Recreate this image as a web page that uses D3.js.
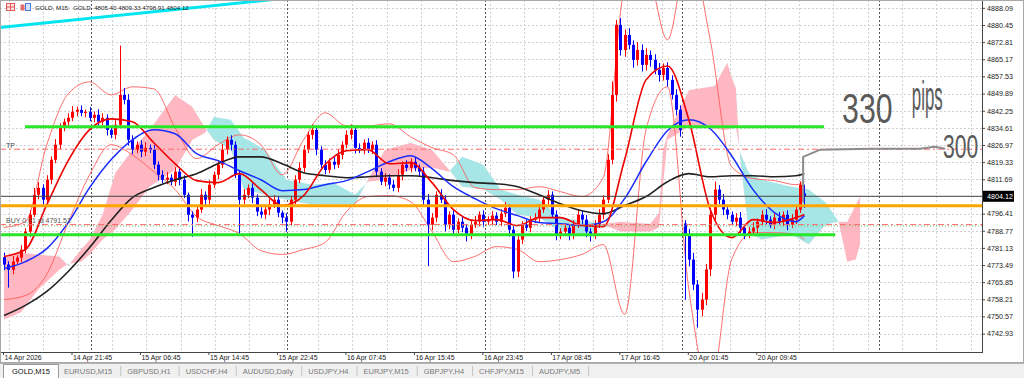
<!DOCTYPE html>
<html>
<head>
<meta charset="utf-8" />
<style>
  body { margin: 0; background: #fff; }
  svg { display: block; }
  text { font-family: "Liberation Sans", Arial, sans-serif; }
</style>
</head>
<body>
<svg id="chart" width="1024" height="378"></svg>
<script src="https://d3js.org/d3.v7.min.js"></script>
<script>
// ---- chart values (GOLD, M15), one candle = 2 bars ----
var closes = [
  4773.7, 4771.4, 4775.0, 4776.8, 4780.3, 4788.4, 4795.9, 4804.8, 4807.9, 4802.6,
  4811.5, 4820.4, 4827.1, 4834.6, 4837.3, 4839.1, 4841.8, 4842.6, 4841.3, 4841.8,
  4839.1, 4840.4, 4837.3, 4839.1, 4833.7, 4831.5, 4836.0, 4849.3, 4847.1, 4829.3,
  4824.9, 4827.1, 4824.0, 4825.7, 4824.9, 4818.2, 4813.7, 4811.5, 4812.4, 4810.6,
  4815.1, 4811.5, 4804.8, 4795.9, 4794.6, 4798.2, 4804.8, 4802.6, 4809.3, 4813.7,
  4818.2, 4824.9, 4829.3, 4827.1, 4813.7, 4802.6, 4804.8, 4807.9, 4803.5, 4797.3,
  4795.9, 4798.2, 4800.4, 4802.6, 4796.8, 4794.6, 4792.8, 4802.6, 4811.5, 4816.8,
  4824.9, 4831.5, 4833.7, 4824.9, 4818.2, 4815.9, 4819.5, 4818.2, 4822.6, 4827.1,
  4831.5, 4833.7, 4825.7, 4824.9, 4828.0, 4824.9, 4827.1, 4815.1, 4810.6, 4812.4,
  4809.3, 4807.9, 4813.7, 4818.2, 4816.8, 4819.5, 4816.8, 4815.1, 4802.6, 4791.5,
  4794.6, 4804.8, 4802.6, 4791.5, 4795.9, 4789.2, 4792.8, 4790.1, 4787.0, 4791.5,
  4792.8, 4795.9, 4792.8, 4793.7, 4795.5, 4792.8, 4796.4, 4799.0, 4789.2, 4770.6,
  4784.8, 4791.5, 4790.1, 4793.7, 4794.6, 4798.2, 4802.6, 4804.8, 4795.9, 4787.0,
  4788.4, 4790.1, 4787.0, 4791.5, 4795.9, 4793.7, 4788.4, 4787.0, 4791.5, 4795.9,
  4802.6, 4820.4, 4849.3, 4880.5, 4869.3, 4876.0, 4871.6, 4864.9, 4869.3, 4862.7,
  4867.1, 4864.9, 4860.5, 4858.2, 4861.3, 4856.0, 4849.3, 4842.7, 4833.7, 4787.0,
  4775.9, 4764.8, 4753.6, 4758.1, 4771.5, 4795.9, 4807.1, 4802.6, 4798.2, 4795.9,
  4792.8, 4794.6, 4790.1, 4787.0, 4788.4, 4790.1, 4792.8, 4795.9, 4793.7, 4791.5,
  4794.6, 4792.8, 4795.9, 4791.5, 4793.7, 4798.2, 4809.3, 4804.12
];
// candles whose open is not the previous close (first bar, weekend gap, last bar)
var openOverrideIdx = [0, 159, 187];
var openOverrideVal = [4777.0, 4792.0, 4805.40];
var wickUp = [
  2.0, 1.5, 2.5, 1.0, 2.0, 1.5, 2.0, 3.0, 2.5, 1.5,
  2.0, 1.5, 2.5, 2.0, 1.5, 2.0, 2.5, 1.5, 2.0, 1.0,
  2.0, 1.5, 2.5, 2.0, 1.5, 1.0, 2.0, 22.0, 3.0, 2.5,
  2.0, 1.5, 2.0, 2.5, 1.5, 2.0, 1.5, 2.0, 2.5, 1.5,
  2.0, 1.5, 2.0, 1.0, 1.5, 2.0, 2.5, 1.5, 2.0, 1.5,
  2.0, 2.5, 1.5, 2.0, 1.5, 2.0, 2.5, 1.5, 2.0, 1.5,
  2.0, 1.5, 2.5, 2.0, 1.5, 1.0, 2.0, 1.5, 2.0, 2.5,
  2.0, 1.5, 2.5, 2.0, 1.5, 2.0, 1.5, 2.0, 2.5, 1.5,
  2.0, 2.5, 1.5, 2.0, 1.5, 2.0, 1.5, 2.0, 1.5, 2.0,
  1.5, 2.0, 2.5, 1.5, 2.0, 1.5, 2.0, 1.5, 2.0, 2.5,
  2.0, 1.5, 2.5, 2.0, 1.5, 2.0, 1.5, 2.0, 1.5, 2.0,
  2.5, 1.5, 2.0, 1.5, 2.0, 1.5, 2.0, 2.5, 1.5, 2.0,
  2.0, 1.5, 2.0, 1.5, 2.0, 2.5, 1.5, 2.0, 1.5, 2.0,
  1.5, 2.0, 1.5, 2.0, 2.5, 1.5, 2.0, 1.5, 2.0, 2.5,
  2.0, 2.5, 6.0, 2.2, 3.0, 2.5, 3.0, 2.0, 3.5, 2.5,
  3.0, 2.0, 2.5, 3.0, 2.0, 2.5, 2.0, 2.5, 2.0, 1.5,
  2.5, 3.0, 2.0, 3.0, 2.5, 3.0, 3.5, 2.0, 2.5, 2.0,
  1.5, 2.0, 2.5, 1.5, 2.0, 2.5, 1.5, 2.0, 2.5, 1.5,
  2.0, 2.5, 1.5, 2.0, 2.5, 2.0, 1.5, 3.9
];
var wickDn = [
  2.5, 8.0, 2.0, 1.5, 2.0, 1.5, 2.5, 1.0, 2.0, 3.0,
  1.5, 2.0, 1.5, 2.0, 1.5, 2.5, 1.5, 2.0, 1.5, 2.0,
  1.5, 2.0, 1.5, 2.0, 2.5, 1.5, 2.0, 1.5, 2.0, 2.5,
  2.0, 1.5, 2.5, 2.0, 1.5, 2.0, 2.5, 1.5, 2.0, 1.5,
  2.0, 2.5, 1.5, 3.0, 8.5, 2.0, 1.5, 2.5, 2.0, 1.5,
  2.0, 1.5, 2.0, 2.5, 1.5, 15.0, 2.0, 1.5, 2.5, 2.0,
  1.5, 2.0, 2.5, 1.5, 2.0, 2.5, 4.5, 1.5, 2.0, 1.5,
  2.0, 1.5, 2.0, 2.5, 1.5, 2.0, 1.5, 2.0, 1.5, 2.0,
  1.5, 2.0, 2.5, 1.5, 2.0, 1.5, 2.0, 2.5, 1.5, 2.0,
  2.0, 1.5, 2.0, 2.5, 1.5, 2.0, 1.5, 2.0, 3.0, 18.5,
  2.5, 2.0, 1.5, 3.0, 2.0, 2.5, 1.5, 2.0, 3.0, 2.0,
  1.5, 2.0, 2.5, 1.5, 2.0, 1.5, 2.0, 1.5, 3.0, 3.0,
  2.5, 2.0, 1.5, 2.0, 1.5, 2.0, 1.5, 2.0, 1.5, 2.5,
  2.0, 1.5, 2.5, 2.0, 1.5, 2.0, 2.5, 3.0, 2.0, 1.5,
  2.0, 1.5, 2.0, 3.0, 2.5, 3.0, 2.0, 3.5, 2.5, 3.0,
  2.5, 3.0, 2.0, 3.0, 2.5, 3.0, 2.0, 2.5, 3.0, 29.0,
  3.0, 2.5, 8.0, 3.0, 2.5, 3.0, 2.5, 2.0, 2.5, 2.0,
  1.5, 2.0, 2.5, 2.0, 1.5, 2.0, 2.5, 1.5, 2.0, 1.5,
  2.0, 1.5, 2.0, 2.5, 1.5, 2.0, 1.5, 5.2
];

// indicator lines, read at every 5th candle
var maIdx = [0,5,10,15,20,25,30,35,40,45,50,55,60,65,70,75,80,85,90,95,100,105,110,115,120,125,130,135,140,145,150,155,160,165,170,175,180,185,187];
var maSlow = [4751.0,4755.5,4761.7,4770.6,4781.3,4793.3,4803.5,4808.0,4811.5,4814.2,4818.6,4821.7,4821.7,4818.6,4814.6,4813.3,4812.4,4812.8,4813.3,4813.3,4812.4,4811.1,4810.2,4809.7,4808.4,4804.8,4800.8,4797.7,4796.4,4800.0,4804.0,4810.6,4814.2,4812.8,4813.3,4813.3,4812.8,4813.3,4814.2];
var maMid = [4771.9,4775.0,4780.8,4792.4,4808.0,4820.4,4829.3,4833.8,4832.0,4823.1,4820.0,4815.5,4811.5,4806.6,4807.1,4809.3,4811.1,4815.1,4819.5,4822.2,4816.4,4808.4,4803.1,4798.6,4795.5,4792.4,4791.9,4791.1,4792.8,4803.1,4819.5,4833.3,4838.2,4834.2,4822.2,4807.1,4796.8,4792.8,4795.5];
var maFast = [4777.3,4780.4,4800.4,4820.0,4833.8,4838.6,4837.3,4828.0,4818.6,4811.1,4810.2,4814.2,4807.1,4800.0,4804.4,4818.2,4824.4,4824.9,4818.6,4819.1,4810.2,4798.2,4793.3,4793.7,4791.1,4794.6,4794.6,4791.1,4790.6,4820.4,4856.0,4862.2,4838.2,4798.2,4785.7,4793.7,4792.4,4794.6,4796.0];
var bandUpper = [4790.2,4792.8,4827.1,4849.8,4855.1,4849.3,4852.9,4852.0,4834.6,4820.9,4827.1,4831.5,4827.1,4813.7,4829.3,4841.3,4835.5,4835.5,4836.4,4830.6,4825.8,4822.6,4808.0,4807.1,4807.1,4808.4,4806.2,4804.0,4812.4,4896.0,4904.9,4873.8,4913.8,4873.8,4817.3,4812.0,4811.1,4809.3,4810.6];
var bandLower = [4758.1,4759.9,4769.3,4792.4,4813.7,4827.1,4822.6,4815.1,4807.1,4795.1,4791.1,4787.5,4779.9,4778.2,4780.4,4783.5,4797.3,4804.0,4804.4,4801.7,4788.4,4775.0,4777.3,4781.7,4780.4,4775.0,4775.9,4778.2,4782.6,4751.5,4833.8,4852.9,4762.6,4718.1,4775.9,4787.9,4787.9,4787.1,4784.8];

// ichimoku cloud (shifted forward past the last candle)
var cloudIdx = [0,4,8,13,15,18,20,23,26,30,34,40,44,47,49,53,56,61,66,72,77,82,85,89,95,100,104,107,112,116,120,125,130,137,140,144,151,153,154,155,160,163,166,168,169,170,171,172,174,177,184,188,192,195,197,199,200];
var spanA = [4749.2,4752.4,4762.6,4771.5,4774.1,4775.0,4778.2,4784.8,4789.3,4798.2,4808.4,4816.0,4829.3,4832.4,4839.5,4838.2,4830.2,4824.9,4811.5,4809.3,4810.2,4804.8,4810.6,4811.5,4816.0,4816.9,4815.1,4821.7,4818.2,4807.1,4804.8,4802.6,4794.6,4792.8,4791.5,4788.4,4788.4,4790.2,4809.3,4829.3,4835.1,4834.6,4834.2,4833.8,4833.8,4834.6,4835.1,4823.5,4814.6,4811.5,4808.4,4807.1,4801.3,4792.8,4775.0,4775.9,4782.6];
var spanB = [4776.8,4779.0,4778.2,4777.3,4773.3,4780.4,4784.8,4795.9,4814.6,4824.9,4833.8,4849.3,4844.0,4834.6,4829.3,4824.9,4807.1,4804.8,4802.6,4800.4,4800.4,4800.4,4811.5,4824.9,4828.0,4824.9,4816.0,4808.4,4807.1,4802.6,4795.9,4794.6,4788.4,4787.1,4791.9,4792.8,4791.9,4796.8,4824.9,4831.5,4851.5,4852.4,4853.3,4860.4,4863.6,4857.3,4852.4,4820.4,4787.9,4784.8,4787.1,4782.6,4791.5,4792.8,4792.8,4800.4,4804.0];

// levels and drawn objects
var zonePrices = [4835.1, 4787.0];
var zoneStart = [4.9, -1];
var zoneEnd = [191.6, 194.2];
var orangeLevel = 4799.9;
var tpLevel = 4825.1;
var buyLevel = 4791.51;
var lastPrice = 4804.12;
var trendIdx = [-1, 64];
var trendPrice = [4879.3, 4892.0];
var penIdx = [186.7, 186.7, 190.7, 202.3, 214.0, 217.5, 219.9];
var penPrice = [4801.3, 4821.7, 4824.9, 4825.3, 4825.3, 4826.2, 4825.3];
var noteText = ['330', 'pips', '300'];
var noteIdx = [195.8, 212.1, 219.4];
var notePrice = [4836.9, 4842.4, 4821.3];

// axes
var priceTicks = [4888.09,4880.45,4872.81,4865.17,4857.53,4849.89,4842.25,4834.61,4826.97,4819.33,4811.69,4796.41,4788.77,4781.13,4773.49,4765.85,4758.21,4750.57,4742.93];
var timeIdx = [0,16,32,48,64,80,96,112,128,144,160,176];
var timeLabels = ['14 Apr 2026','14 Apr 21:45','15 Apr 06:45','15 Apr 14:45','15 Apr 22:45','16 Apr 07:45','16 Apr 15:45','16 Apr 23:45','17 Apr 08:45','17 Apr 16:45','20 Apr 01:45','20 Apr 09:45'];
var daySepIdx = [20.3, 66.1, 112.4, 158.4, 204.4];
var tabs = ['GOLD,M15','EURUSD,M15','GBPUSD,H1','USDCHF,H4','AUDUSD,Daily','USDJPY,H4','EURJPY,M15','GBPJPY,H4','CHFJPY,M15','AUDJPY,M5'];

var svg = d3.select('#chart');
var W = 1024, H = 378, plotW = 982, plotH = 352;

var x = d3.scaleLinear().domain([0, 187]).range([4, 804.4]);
var y = d3.scaleLinear().domain([4742.93, 4880.45]).range([333.6, 25]);

var defs = svg.append('defs');
defs.append('clipPath').attr('id', 'plot')
    .append('rect').attr('width', plotW).attr('height', plotH);

svg.append('rect').attr('width', W).attr('height', H).attr('fill', '#fff');

var g = svg.append('g').attr('clip-path', 'url(#plot)');

// grid
g.selectAll('.hgrid').data(priceTicks.concat([4804.05])).enter().append('line')
    .attr('class', 'hgrid')
    .attr('x1', 0).attr('x2', plotW)
    .attr('y1', function(d){ return Math.round(y(d)) + 0.5; })
    .attr('y2', function(d){ return Math.round(y(d)) + 0.5; })
    .attr('stroke', '#d0d0d0').attr('stroke-dasharray', '2,2');

g.selectAll('.vgrid').data(d3.range(1.17, 230, 8.025)).enter().append('line')
    .attr('class', 'vgrid')
    .attr('x1', function(d){ return Math.round(x(d)) + 0.5; })
    .attr('x2', function(d){ return Math.round(x(d)) + 0.5; })
    .attr('y1', 0).attr('y2', plotH)
    .attr('stroke', '#d0d0d0').attr('stroke-dasharray', '2,2');

g.selectAll('.daysep').data(daySepIdx).enter().append('line')
    .attr('class', 'daysep')
    .attr('x1', function(d){ return Math.round(x(d)) + 0.5; })
    .attr('x2', function(d){ return Math.round(x(d)) + 0.5; })
    .attr('y1', 0).attr('y2', plotH)
    .attr('stroke', '#555').attr('stroke-dasharray', '2,2');

// cloud
var cloud = cloudIdx.map(function(d, i){ return {i: d, a: spanA[i], b: spanB[i]}; });
var between = d3.area().x(function(d){ return x(d.i); })
    .y0(function(d){ return y(d.a); }).y1(function(d){ return y(d.b); });
defs.append('clipPath').attr('id', 'aboveB').append('path')
    .attr('d', d3.area().x(function(d){ return x(d.i); }).y0(0).y1(function(d){ return y(d.b); })(cloud));
defs.append('clipPath').attr('id', 'belowB').append('path')
    .attr('d', d3.area().x(function(d){ return x(d.i); }).y0(function(d){ return y(d.b); }).y1(plotH)(cloud));
g.append('path').attr('d', between(cloud)).attr('fill', '#a6e6e6').attr('clip-path', 'url(#aboveB)');
g.append('path').attr('d', between(cloud)).attr('fill', '#ffb7c2').attr('clip-path', 'url(#belowB)');

// bands
function smooth(vals){
    return d3.line()
        .x(function(d, i){ return x(maIdx[i]); })
        .y(function(d){ return y(d); })
        .curve(d3.curveMonotoneX)(vals);
}
[bandUpper, bandLower].forEach(function(b){
    g.append('path').attr('d', smooth(b)).attr('fill', 'none')
        .attr('stroke', '#ff5c5c').attr('stroke-width', 0.9);
});

// candles
var candles = closes.map(function(c, i){
    var k = openOverrideIdx.indexOf(i);
    var o = k >= 0 ? openOverrideVal[k] : closes[i - 1];
    return {i: i, o: o, c: c,
            h: Math.max(o, c) + wickUp[i],
            l: Math.min(o, c) - wickDn[i]};
});
function col(d){ return d.c >= d.o ? '#ff0000' : '#0000ff'; }

g.selectAll('.wick').data(candles).enter().append('line')
    .attr('class', 'wick')
    .attr('x1', function(d){ return Math.round(x(d.i)) + 0.5; })
    .attr('x2', function(d){ return Math.round(x(d.i)) + 0.5; })
    .attr('y1', function(d){ return y(d.h); })
    .attr('y2', function(d){ return y(d.l); })
    .attr('stroke', col).attr('stroke-width', 1);

g.selectAll('.body').data(candles).enter().append('rect')
    .attr('class', 'body')
    .attr('x', function(d){ return Math.round(x(d.i)) - 1; })
    .attr('width', 3)
    .attr('y', function(d){ return y(Math.max(d.o, d.c)); })
    .attr('height', function(d){ return Math.max(1, Math.abs(y(d.o) - y(d.c))); })
    .attr('fill', col);

// moving averages
g.append('path').attr('d', smooth(maSlow)).attr('fill', 'none').attr('stroke', '#222').attr('stroke-width', 1.6);
g.append('path').attr('d', smooth(maMid)).attr('fill', 'none').attr('stroke', '#1a2cff').attr('stroke-width', 1.5);
g.append('path').attr('d', smooth(maFast)).attr('fill', 'none').attr('stroke', '#ee0000').attr('stroke-width', 1.6);

// levels
function hline(p, color, w, dash){
    var l = g.append('line').attr('x1', 0).attr('x2', plotW)
        .attr('y1', y(p)).attr('y2', y(p))
        .attr('stroke', color).attr('stroke-width', w);
    if (dash) l.attr('stroke-dasharray', dash);
}
hline(lastPrice, '#444', 1);
hline(tpLevel, '#ff6a6a', 1, '6,3,2,3');
hline(buyLevel - 0.6, '#66c266', 1, '1,2');
hline(buyLevel, '#ff6a6a', 1, '6,3,2,3');
hline(orangeLevel, '#ffa500', 3);

g.selectAll('.zone').data(zonePrices).enter().append('line')
    .attr('class', 'zone')
    .attr('x1', function(d, i){ return x(zoneStart[i]); })
    .attr('x2', function(d, i){ return x(zoneEnd[i]); })
    .attr('y1', function(d){ return y(d); })
    .attr('y2', function(d){ return y(d); })
    .attr('stroke', '#28e628').attr('stroke-width', 3);

g.append('line')
    .attr('x1', x(trendIdx[0])).attr('y1', y(trendPrice[0]))
    .attr('x2', x(trendIdx[1])).attr('y2', y(trendPrice[1]))
    .attr('stroke', '#00e5f0').attr('stroke-width', 3);

g.append('text').attr('x', 6).attr('y', y(tpLevel) - 1.5)
    .attr('font-size', 7).attr('fill', '#444').text('TP');
g.append('text').attr('x', 6).attr('y', y(buyLevel) - 2)
    .attr('font-size', 7).attr('fill', '#555').text('BUY 0.01 at 4791.51');

// pen drawing and notes
g.append('path')
    .attr('d', d3.line().x(function(d, i){ return x(penIdx[i]); }).y(function(d){ return y(d); })(penPrice))
    .attr('fill', 'none').attr('stroke', '#8c8c8c').attr('stroke-width', 2)
    .attr('stroke-linejoin', 'round');

// handwritten notes: tall, narrow pen strokes
var noteSize = [42, 40, 34];
var noteSqueeze = [0.72, 0.42, 0.62];
g.selectAll('.note').data(noteText).enter().append('text')
    .attr('class', 'note')
    .attr('transform', function(d, i){
        return 'translate(' + x(noteIdx[i]) + ',' + y(notePrice[i]) + ') scale(' + noteSqueeze[i] + ',1)';
    })
    .attr('font-family', 'Lato, "Open Sans", sans-serif')
    .attr('font-weight', 300)
    .attr('font-size', function(d, i){ return noteSize[i]; })
    .attr('fill', '#5a5a5a')
    .text(function(d){ return d; });

// price axis
var yAxis = d3.axisRight(y).tickValues(priceTicks).tickSize(3).tickFormat(d3.format('.2f'));
var ya = svg.append('g').attr('transform', 'translate(' + plotW + ',0)').call(yAxis);
ya.attr('font-size', 7.2).attr('font-family', '"Liberation Sans", Arial, sans-serif');
ya.select('.domain').remove();
ya.selectAll('.tick line').attr('stroke', '#444');
ya.selectAll('text').attr('x', 5).attr('fill', '#222');

svg.append('line').attr('x1', plotW + 0.5).attr('x2', plotW + 0.5).attr('y1', 0).attr('y2', plotH + 1)
    .attr('stroke', '#444');

svg.append('rect').attr('x', plotW + 1).attr('y', y(lastPrice) - 5.5)
    .attr('width', 31).attr('height', 11).attr('fill', '#000');
svg.append('text').attr('x', plotW + 5).attr('y', y(lastPrice) + 2.6)
    .attr('font-size', 7.2).attr('fill', '#fff').text(d3.format('.2f')(lastPrice));

// time axis
var xAxis = d3.axisBottom(x).tickValues(timeIdx).tickSize(3)
    .tickFormat(function(d, i){ return timeLabels[i]; });
var xa = svg.append('g').attr('transform', 'translate(-1,' + plotH + ')').call(xAxis);
xa.attr('font-size', 6.9).attr('font-family', '"Liberation Sans", Arial, sans-serif');
xa.select('.domain').remove();
xa.selectAll('.tick line').attr('stroke', '#444');
xa.selectAll('text').attr('text-anchor', 'start').attr('x', 1).attr('y', 3).attr('fill', '#222');

svg.append('line').attr('x1', 0).attr('x2', plotW + 1).attr('y1', plotH + 0.5).attr('y2', plotH + 0.5)
    .attr('stroke', '#444');

// header
svg.append('rect').attr('x', 6.5).attr('y', 3.5).attr('width', 8).attr('height', 7)
    .attr('fill', '#fde3e3').attr('stroke', '#e05a5a');
svg.append('line').attr('x1', 6.5).attr('x2', 14.5).attr('y1', 7).attr('y2', 7).attr('stroke', '#e05a5a');
svg.append('line').attr('x1', 10.5).attr('x2', 10.5).attr('y1', 3.5).attr('y2', 10.5).attr('stroke', '#e05a5a');
svg.append('rect').attr('x', 20.5).attr('y', 4.5).attr('width', 4).attr('height', 6).attr('fill', '#e86a6a');
svg.append('rect').attr('x', 25.5).attr('y', 3.5).attr('width', 5).attr('height', 7)
    .attr('fill', '#cfe2ff').attr('stroke', '#4a7fd8');
svg.append('text').attr('x', 35).attr('y', 10).attr('font-size', 6.2).attr('fill', '#222')
    .style('white-space', 'pre')
    .text('GOLD, M15:  GOLD  4805.40 4809.33 4798.91 4804.12');

// tab bar
svg.append('rect').attr('x', 0).attr('y', 363).attr('width', W).attr('height', 15).attr('fill', '#f0f0f0');
svg.append('line').attr('x1', 0).attr('x2', W).attr('y1', 363.5).attr('y2', 363.5).attr('stroke', '#b4b4b4');
var tabG = svg.append('g');
var activeBox = tabG.append('rect')
    .attr('x', 3.5).attr('y', 364.5).attr('height', 14)
    .attr('fill', '#fff').attr('stroke', '#9a9a9a');
var tx = 12;
tabs.forEach(function(name, i){
    var t = tabG.append('text').attr('x', tx).attr('y', 374).attr('font-size', 7.5)
        .attr('fill', i === 0 ? '#111' : '#7a7a7a').text(name);
    var w = t.node().getComputedTextLength();
    if (i === 0) {
        activeBox.attr('width', w + 17);
        tx = tx + w + 14;
    } else {
        tabG.append('line').attr('x1', tx + w + 8.5).attr('x2', tx + w + 8.5)
            .attr('y1', 366).attr('y2', 376).attr('stroke', '#c4c4c4');
        tx = tx + w + 15;
    }
});

// window frame
svg.append('rect').attr('x', 0.5).attr('y', 0.5).attr('width', W - 1).attr('height', 362)
    .attr('fill', 'none').attr('stroke', '#a8a8a8');
</script>
</body>
</html>
